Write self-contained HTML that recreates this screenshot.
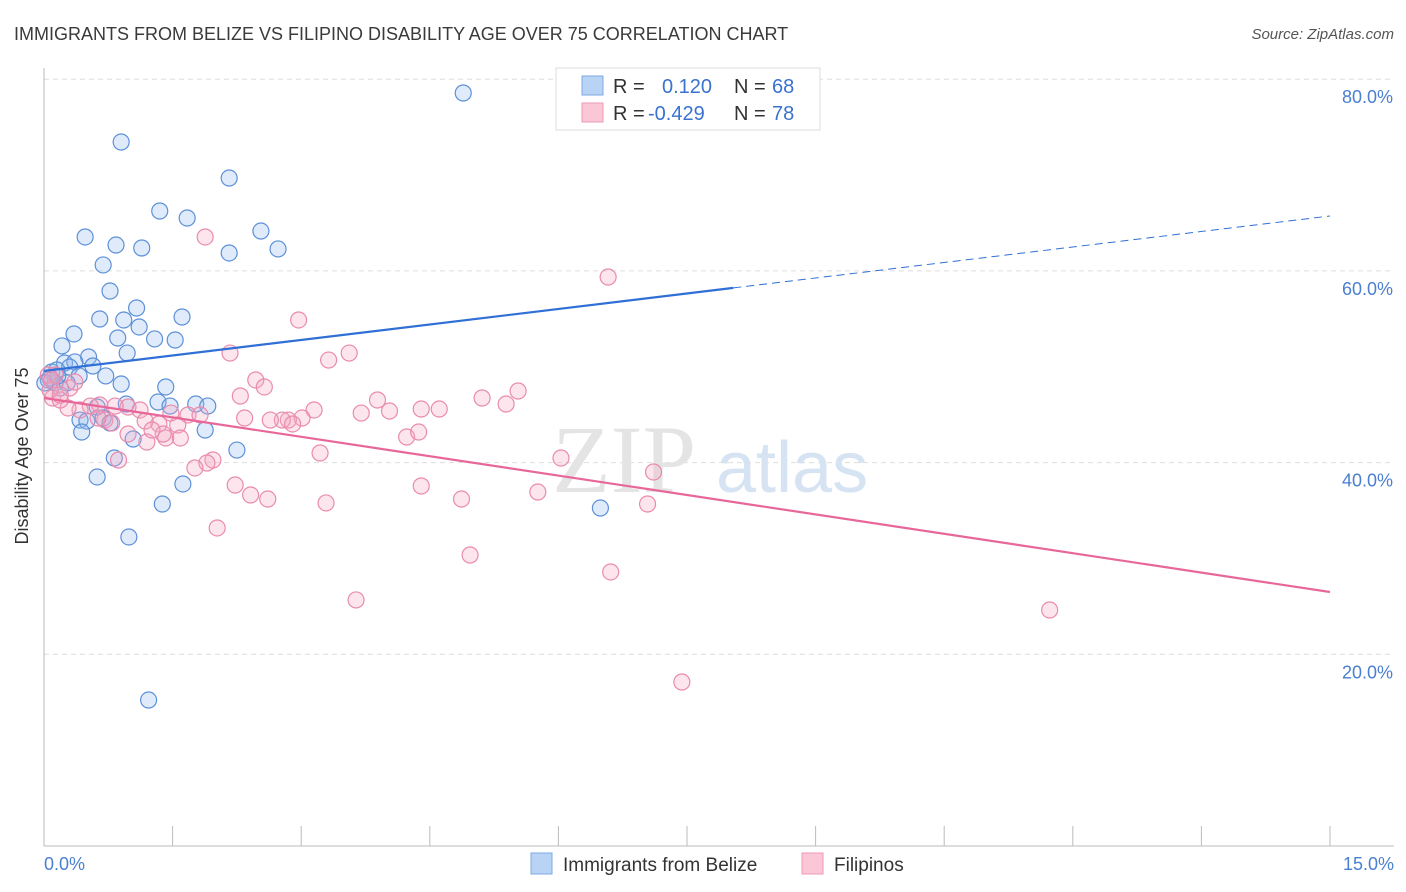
<!DOCTYPE html>
<html><head><meta charset="utf-8"><style>
body{margin:0;background:#fff;font-family:"Liberation Sans",sans-serif}
svg{display:block}
</style></head><body>
<svg id="chart" width="1406" height="892" xmlns="http://www.w3.org/2000/svg">
<text x="14" y="40" font-size="18" fill="#3a3a3a">IMMIGRANTS FROM BELIZE VS FILIPINO DISABILITY AGE OVER 75 CORRELATION CHART</text>
<text x="1394" y="39" font-size="15" fill="#555" font-style="italic" text-anchor="end">Source: ZipAtlas.com</text>
<g id="grid"></g>
<g><text x="552" y="492" font-size="96" font-family="Liberation Serif,serif" fill="#e4e4e4">ZIP</text><text x="716" y="492" font-size="72" fill="#d6e3f3">atlas</text></g>
<g id="axes"></g>
<g id="points"></g>
<g id="trends"></g>
<text x="28" y="456" font-size="18" fill="#333" text-anchor="middle" transform="rotate(-90 28 456)">Disability Age Over 75</text>
<text x="44" y="870" font-size="18" fill="#4a7fd1">0.0%</text>
<text x="1394" y="870" font-size="18" fill="#4a7fd1" text-anchor="end">15.0%</text>
<g>
<rect x="556" y="68" width="264" height="62" fill="#fff" stroke="#ddd"/>
<rect x="582" y="76" width="21" height="19" fill="#b9d3f5" stroke="#7ea9e4"/>
<rect x="582" y="103" width="21" height="19" fill="#fbc6d6" stroke="#ee9ab7"/>
<text x="613" y="93" font-size="20" fill="#333">R = </text><text x="662" y="93" font-size="20" fill="#3a72cf">0.120</text>
<text x="734" y="93" font-size="20" fill="#333">N = </text><text x="772" y="93" font-size="20" fill="#3a72cf">68</text>
<text x="613" y="120" font-size="20" fill="#333">R = </text><text x="648" y="120" font-size="20" fill="#3a72cf">-0.429</text>
<text x="734" y="120" font-size="20" fill="#333">N = </text><text x="772" y="120" font-size="20" fill="#3a72cf">78</text>
</g>
<g>
<rect x="531" y="853" width="21" height="21" fill="#b9d3f5" stroke="#7ea9e4"/>
<text x="563" y="871" font-size="19" fill="#333">Immigrants from Belize</text>
<rect x="802" y="853" width="21" height="21" fill="#fbc6d6" stroke="#ee9ab7"/>
<text x="834" y="871" font-size="19" fill="#333">Filipinos</text>
</g>
</svg>
<script>
const yTicks=[20,40,60,80];
const blueX=[4.89,0.90,2.16,1.35,1.67,0.48,0.84,1.14,2.16,2.53,2.73,0.69,0.77,1.08,0.65,0.93,1.11,1.61,0.35,0.86,1.29,1.53,0.21,0.97,0.24,0.52,0.36,0.57,0.30,0.09,0.15,0.72,0.41,0.05,0.13,0.27,0.90,1.42,0.19,1.33,1.77,1.91,1.47,0.96,0.62,0.69,0.77,0.42,0.50,0.44,1.04,1.88,2.25,0.82,0.62,1.62,1.38,0.99,1.22,6.49,0.07,0.01,0.16];
const blueY=[78.56,73.45,69.69,66.25,65.52,63.54,62.70,62.39,61.87,64.16,62.29,60.62,57.90,56.13,54.98,54.88,54.15,55.19,53.42,53.00,52.90,52.79,52.17,51.43,50.39,51.02,50.50,50.08,49.97,49.45,49.66,49.04,49.04,48.62,48.31,48.31,48.20,47.89,47.78,46.32,46.11,45.90,45.90,46.11,45.80,44.65,44.13,44.44,44.34,43.19,42.46,43.40,41.31,40.48,38.50,37.77,35.68,32.24,15.23,35.26,48.83,48.31,49.04];
const pinkX=[1.88,6.58,2.97,2.17,3.56,3.32,2.47,2.57,5.53,2.29,3.89,5.11,5.39,4.40,4.61,3.70,4.03,3.15,3.01,2.85,2.78,2.90,2.64,2.34,1.68,1.82,1.48,1.56,1.34,1.12,0.98,0.83,0.65,0.54,0.42,0.28,0.10,0.19,0.07,0.30,0.13,0.71,0.79,1.18,0.98,1.20,1.42,1.59,1.39,1.26,4.23,4.37,3.22,6.03,7.11,1.97,1.90,1.76,0.87,2.23,2.41,2.61,4.40,4.87,5.76,3.29,7.04,2.02,4.97,6.61,3.64,11.73,7.44,0.19,0.05,0.09,0.63,0.36];
const pinkY=[63.54,59.36,54.88,51.43,51.43,50.70,48.62,47.89,47.47,46.95,46.53,46.74,46.11,45.59,45.59,45.17,45.38,45.49,44.65,44.44,44.44,44.03,44.44,44.65,44.97,44.97,45.17,43.92,44.03,45.49,45.80,45.90,46.01,45.90,45.49,45.70,46.74,46.53,47.57,47.78,49.14,44.44,44.13,44.34,42.98,42.15,42.57,42.57,42.98,43.40,42.67,43.19,41.00,40.48,39.02,40.27,39.96,39.44,40.27,37.66,36.62,36.20,37.56,36.20,36.93,35.79,35.68,33.18,30.36,28.59,25.67,24.62,17.11,47.05,49.14,48.62,44.65,48.41];
const blueTrend=[49.56,65.73];
const pinkTrend=[46.74,26.5];
const blueSolidEnd=8.04;
const NS="http://www.w3.org/2000/svg";
const X=v=>44+v/15*1286;
const Y=v=>846-v*9.585;
function mk(t,a,p){const e=document.createElementNS(NS,t);for(const k in a)e.setAttribute(k,a[k]);p.appendChild(e);return e;}
const grid=document.getElementById('grid');
yTicks.forEach(t=>{
 const l=mk('line',{x1:44,x2:1394,y1:Y(t),y2:Y(t),stroke:'#ddd','stroke-dasharray':'5,4'},grid);
 
 
 const tx=mk('text',{x:1393,y:Y(t)+24,'font-size':18,fill:'#4a7fd1','text-anchor':'end'},grid);
 tx.textContent=t.toFixed(1)+'%';
 
 
});
const axes=document.getElementById('axes');
mk('line',{x1:44,x2:44,y1:68,y2:846,stroke:'#bbb'},axes);
mk('line',{x1:44,x2:1394,y1:846,y2:846,stroke:'#bbb'},axes);
for(let i=0;i<=10;i++){const tk=mk('line',{x1:X(i*1.5),x2:X(i*1.5),y1:826,y2:846,stroke:'#bbb'},axes);
 
 }
const pts=document.getElementById('points');
blueX.forEach((v,i)=>{const c=mk('circle',{cx:X(v),cy:Y(blueY[i]),r:8,fill:'rgba(150,190,240,0.3)',stroke:'#5d90d8','stroke-width':1.2},pts);
 
 });
pinkX.forEach((v,i)=>{const c=mk('circle',{cx:X(v),cy:Y(pinkY[i]),r:8,fill:'rgba(244,170,196,0.3)',stroke:'#e98bad','stroke-width':1.2},pts);
 
 });
const tr=document.getElementById('trends');
const bAt=x=>blueTrend[0]+(blueTrend[1]-blueTrend[0])*x/15;
const b1=mk('line',{x1:X(0),y1:Y(blueTrend[0]),x2:X(blueSolidEnd),y2:Y(bAt(blueSolidEnd)),stroke:'#2f6fd6','stroke-width':2.2},tr);


const b2=mk('line',{x1:X(blueSolidEnd),y1:Y(bAt(blueSolidEnd)),x2:X(15),y2:Y(blueTrend[1]),stroke:'#2f6fd6','stroke-width':1,'stroke-dasharray':'8,5'},tr);


const p1=mk('line',{x1:X(0),y1:Y(pinkTrend[0]),x2:X(15),y2:Y(pinkTrend[1]),stroke:'#e8679a','stroke-width':2.2},tr);


</script>
</body></html>
